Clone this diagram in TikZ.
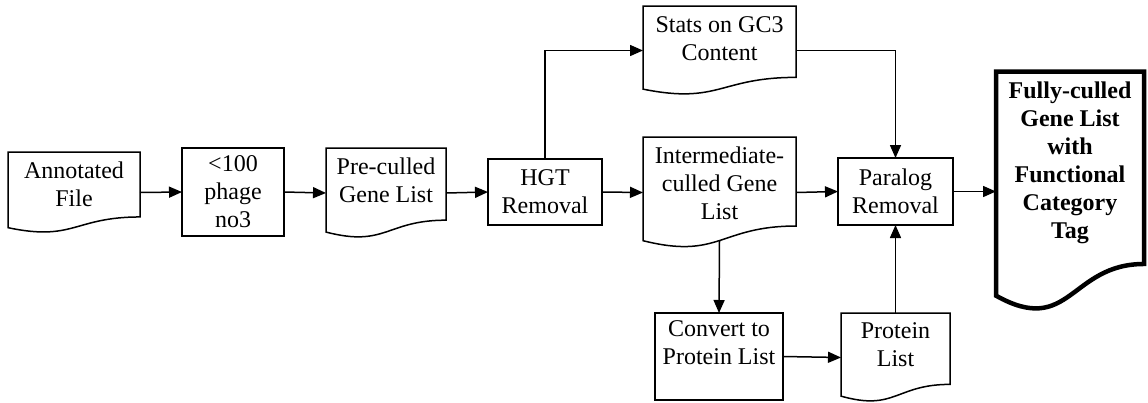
\documentclass[tikz,border=0pt]{standalone}
\usepackage{fontspec}
\setmainfont{Liberation Serif}
\usetikzlibrary{arrows.meta,calc}

\tikzset{
  base/.style={inner sep=0pt, outer sep=0pt},
  procbox/.style={base, draw, line width=1.5pt, align=center,
    font=\fontsize{24}{28}\selectfont},
  txt/.style={base, align=center, font=\fontsize{24}{28}\selectfont},
  outline/.style={line width=1.5pt, line join=miter},
  flow/.style={line width=1.5pt, -{Triangle[length=13pt,width=11pt]}},
}

% Document shape: straight top and sides, wavy bottom edge.
\newcommand{\docoutline}[2][]{%
  \draw[outline,#1] let \p1=(#2.north west), \p2=(#2.south east) in
    (\x1,\y1) -- (\x2,\y1) -- (\x2,{\y1+0.802*(\y2-\y1)})
    .. controls ({0.5*(\x1+\x2)},{\y1+0.802*(\y2-\y1)})
       and ({0.5*(\x1+\x2)},{\y1+1.107*(\y2-\y1)}) ..
    (\x1,{\y1+0.934*(\y2-\y1)}) -- cycle;}

\begin{document}
\begin{tikzpicture}[x=1pt, y=-1pt]
\useasboundingbox (0,0) rectangle (1148,402);

% frames of the document shapes
\node[base, minimum width=132pt, minimum height=81pt]  (ann)  at (74,192.5) {};
\node[base, minimum width=120pt, minimum height=90pt]  (pre)  at (386,193) {};
\node[base, minimum width=153pt, minimum height=89pt]  (gc3)  at (719.5,50.5) {};
\node[base, minimum width=153pt, minimum height=111pt] (mid)  at (719.5,192.5) {};
\node[base, minimum width=148pt, minimum height=240pt] (full) at (1070,191.5) {};
\node[base, minimum width=109pt, minimum height=89pt]  (prot) at (895.5,357.5) {};

% process boxes
\node[procbox, minimum width=102pt, minimum height=88pt] (flt)  at (233,192)   {<100\\phage\\no3};
\node[procbox, minimum width=114pt, minimum height=66pt] (hgt)  at (545,192)   {HGT\\Removal};
\node[procbox, minimum width=115pt, minimum height=67pt] (para) at (895.5,191.5) {Paralog\\Removal};
\node[procbox, minimum width=128pt, minimum height=87pt] (conv) at (719,356.5)  {Convert to\\Protein List\\\mbox{}};

% document outlines
\docoutline{ann}
\docoutline{pre}
\docoutline{gc3}
\docoutline{mid}
\docoutline{prot}
\docoutline[line width=4.5pt]{full}

% document texts
\node[txt] (ann-t)  at ($(ann.north)!0.40!(ann.south)$)   {Annotated\\File};
\node[txt] (pre-t)  at ($(pre.north)!0.36!(pre.south)$)   {Pre-culled\\Gene List};
\node[txt] (gc3-t)  at ($(gc3.north)!0.37!(gc3.south)$)   {Stats on GC3\\Content};
\node[txt] (mid-t)  at ($(mid.north)!0.42!(mid.south)$)   {Intermediate-\\culled Gene\\List};
\node[txt] (prot-t) at ($(prot.north)!0.36!(prot.south)$) {Protein\\List};
\node[txt, font=\fontsize{24}{28}\selectfont\bfseries] (full-t)
  at ($(full.north)!0.38!(full.south)$)
  {Fully-culled\\Gene List\\with\\Functional\\Category\\Tag};

% point where the intermediate list's wavy edge meets its outgoing arrow
\coordinate (mid-out) at ($(mid.north)!0.933!(mid.south)$);

% connectors
\draw[flow] (ann.east)  -- (flt.west);
\draw[flow] (flt.east)  -- (pre.west);
\draw[flow] (pre.east)  -- (hgt.west);
\draw[flow] (hgt.east)  -- (mid.west);
\draw[flow] (hgt.north) |- (gc3.west);
\draw[flow] (gc3.east)  -| (para.north);
\draw[flow] (mid.east)  -- (para.west);
\draw[flow] (para.east) -- (full.west);
\draw[flow] (mid-out)   -- (conv.north);
\draw[flow] (conv.east) -- (prot.west);
\draw[flow] (prot.north) -- (para.south);
\end{tikzpicture}
\end{document}
